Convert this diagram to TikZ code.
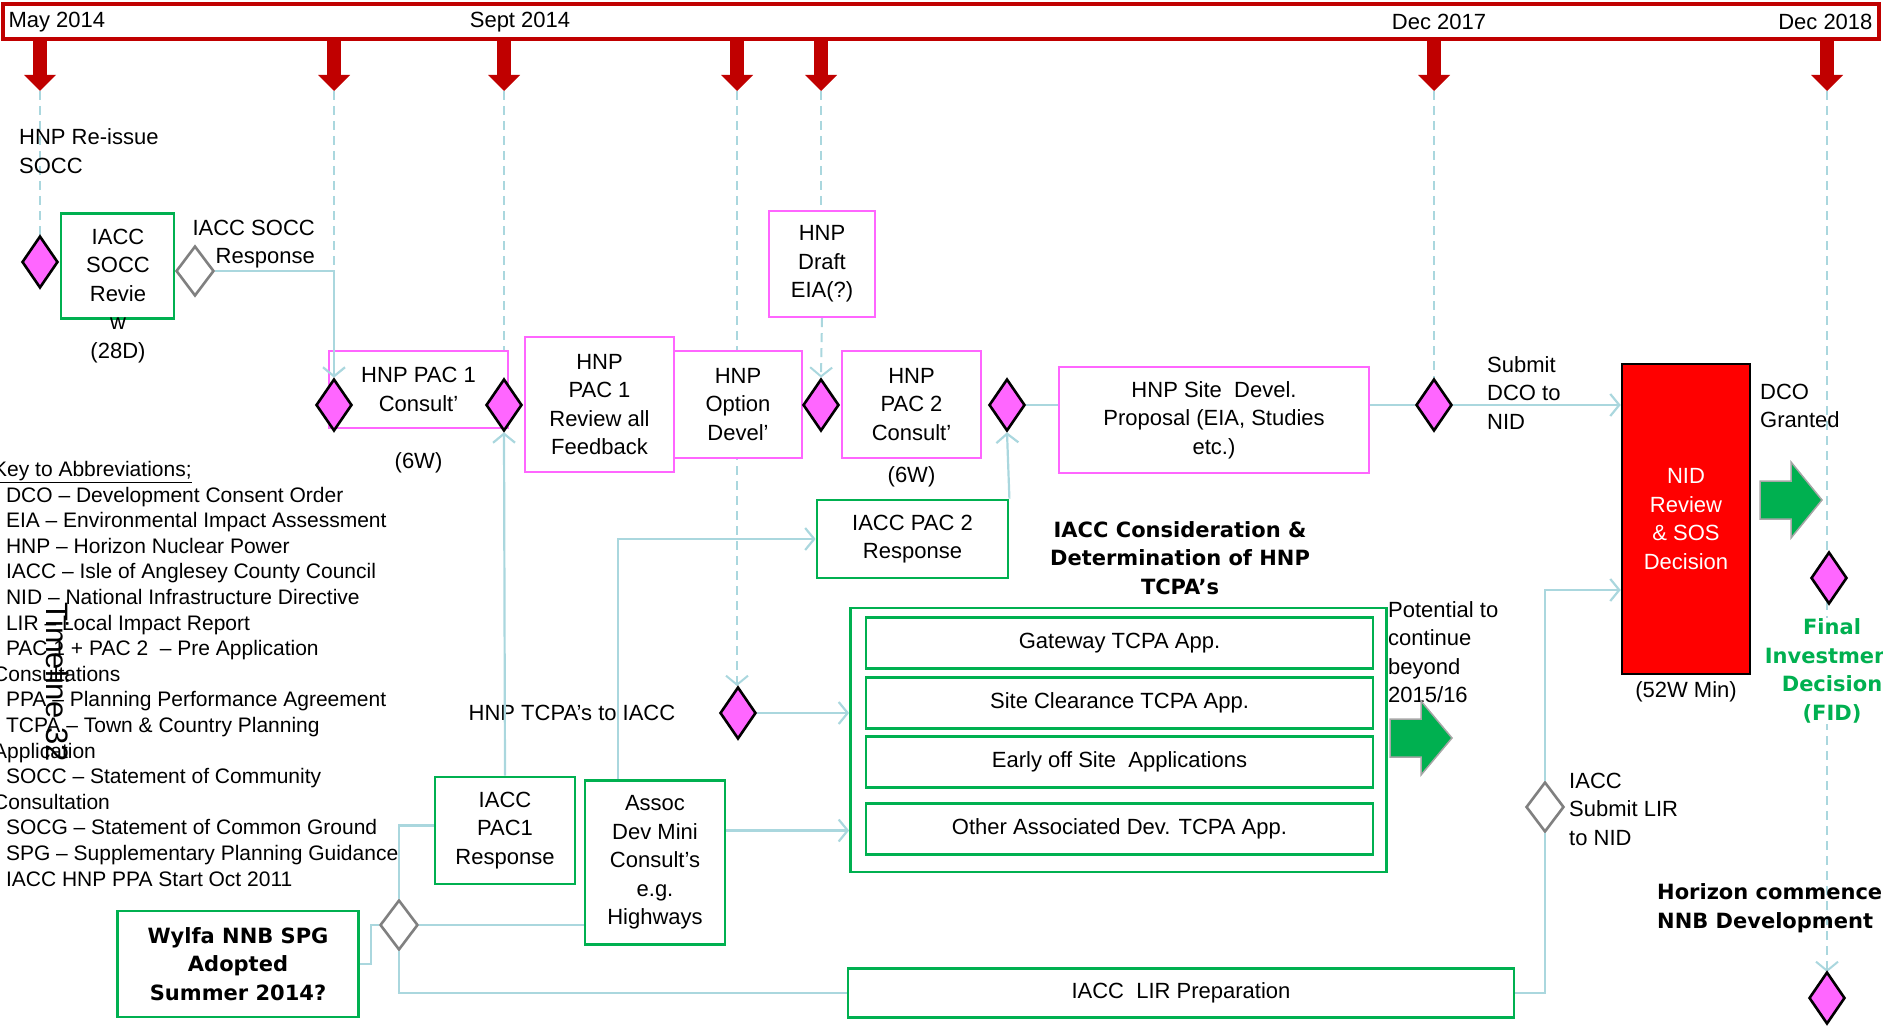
\documentclass[tikz,border=0pt]{standalone}
\usepackage{fontspec}
\setmainfont{Liberation Sans}
\newfontfamily\boldfam{DejaVu Sans}
\usepackage{tikz}
\usetikzlibrary{positioning,arrows.meta,shapes.geometric}
\definecolor{hnppink}{HTML}{FF66FF}
\definecolor{iaccgreen}{HTML}{00B050}
\definecolor{flowblue}{RGB}{170,215,222}
\definecolor{tickred}{HTML}{C00000}
\definecolor{nidred}{HTML}{FF0000}
\newcommand{\lbltxt}{\fontsize{22}{28.5}\selectfont}
\newcommand{\keytxt}{\fontsize{21}{25.6}\selectfont}
\newcommand{\heavytxt}{\boldfam\bfseries\fontsize{21}{28.5}\selectfont}
\tikzset{
	milestone/.style={diamond,draw=black,fill=hnppink,line width=2.6pt,
		minimum width=36pt,minimum height=52pt,inner sep=0pt},
	waypoint/.style={diamond,draw=gray,fill=white,line width=2.6pt,
		minimum width=38pt,minimum height=50pt,inner sep=0pt},
	hnpbox/.style={draw=hnppink,line width=2.4pt,fill=white,align=center,inner sep=0pt},
	iaccbox/.style={draw=iaccgreen,line width=2.8pt,fill=white,align=center,inner sep=0pt},
	note/.style={align=left,inner sep=0pt},
	link/.style={draw=flowblue,line width=2.2pt},
	flow/.style={link,-{Straight Barb[length=9pt,width=22pt]}},
	track/.style={draw=flowblue,line width=2pt,dash pattern=on 9pt off 6pt},
	tracktip/.style={track,-{Straight Barb[length=9pt,width=22pt]}},
	blockarrow/.style={fill=iaccgreen,draw=gray!70,line width=1.5pt}
}

\begin{document}
\begin{tikzpicture}[x=1pt,y=-1pt,font=\lbltxt]
	\useasboundingbox (0,0) rectangle (1883,1030);
	
	% timeline header
	\node[draw=tickred,line width=4pt,minimum width=1876pt,minimum height=35pt,
		anchor=north west,inner sep=0pt] (hdr) at (1,2) {};
	\node[anchor=west] (may) at (5,22) {May 2014};
	\node (sept) at (520,22) {Sept 2014};
	\node (dec17) at (1439,22) {Dec 2017};
	\node[anchor=east] (dec18) at (1876,22) {Dec 2018};
	\foreach \x [count=\i] in {40,334,504,737,821,1434,1827} {
		\fill[tickred] (\x-7,38) rectangle (\x+7,76);
		\fill[tickred] (\x-16,75) -- (\x+16,75) -- (\x,91) -- cycle;
		\coordinate (tip\i) at (\x,91);
	}
	
	% dashed time tracks
	\draw[track] (tip1) -- (40,236);
	\draw[track] (tip2) -- (334,379);
	\draw[track] (tip3) -- (504,379);
	\draw[tracktip] (tip4) -- (737,686);
	\draw[track] (tip5) -- (821,211);
	\draw[track] (tip6) -- (1434,379);
	\draw[tracktip] (tip7) -- (1827,972);
	
	% SOCC
	\node[note,anchor=west] (reissuelbl) at (19,151) {HNP Re-issue\\SOCC};
	\node[milestone] (reissue) at (40,262) {};
	\node[iaccbox,minimum width=113pt,minimum height=105pt] (sreview) at (117.5,266) {};
	\node[align=center,inner sep=0pt] (sreviewtxt) at (118,296) {IACC\\SOCC\\Revie\\w\\(28D)};
	\node[waypoint] (sresp) at (195,271) {};
	\node[note,align=right,anchor=east] (sresplbl) at (315,244) {IACC SOCC\\Response};
	
	% HNP consultation chain
	\node[hnpbox,minimum width=179pt,minimum height=77pt] (pac1) at (418.5,389.5) {HNP PAC 1\\Consult’};
	\node[milestone] (pac1s) at (334,405) {};
	\node[milestone] (pac1e) at (504,405) {};
	\node (w1) [below=20pt of pac1] {(6W)};
	\node[hnpbox,minimum width=149pt,minimum height=135pt] (review) at (599.5,404.5) {HNP\\PAC 1\\Review all\\Feedback};
	\node[hnpbox,minimum width=128pt,minimum height=107pt] (option) at (738,404.5) {HNP\\Option\\Devel’};
	\node[hnpbox,minimum width=106pt,minimum height=106pt] (draft) at (822,264) {HNP\\Draft\\EIA(?)};
	\node[milestone] (pac2s) at (821,405) {};
	\node[hnpbox,minimum width=139pt,minimum height=107pt] (pac2) at (911.5,404.5) {HNP\\PAC 2\\Consult’};
	\node (w2) [below=4pt of pac2] {(6W)};
	\node[milestone] (pac2e) at (1007,405) {};
	\node[hnpbox,minimum width=310pt,minimum height=106pt] (site) at (1214,420) {HNP Site~ Devel.\\Proposal (EIA, Studies\\etc.)};
	\node[milestone] (dco) at (1434,405) {};
	\node[note,anchor=west] (dcolbl) at (1487,393) {Submit\\DCO to\\NID};
	
	% NID decision
	\node[draw=black,fill=nidred,line width=2.6pt,minimum width=128pt,minimum height=310pt,
		text=white,align=center] (nid) at (1686,519) {NID\\Review\\\& SOS\\Decision};
	\node (minlbl) [below=3pt of nid] {(52W Min)};
	\node[note,anchor=west] (grantlbl) at (1760,406) {DCO\\Granted};
	\coordinate (go1) at (1760,500);
	\draw[blockarrow] (go1) ++(0,-19) -- ++(31,0) -- ++(0,-19) -- ++(31,38) -- ++(-31,38) -- ++(0,-19) -- ++(-31,0) -- cycle;
	\node[milestone] (fid) at (1829,578) {};
	\node[align=center,text=iaccgreen,font=\heavytxt,fill=white,inner sep=1pt] (fidlbl) at (1832,671) {Final\\Investment\\Decision\\(FID)};
	\node[note,anchor=west,font=\heavytxt] (startlbl) at (1657,908) {Horizon commences\\NNB Development};
	\node[milestone] (start) at (1827,998) {};
	
	% IACC TCPA applications
	\node[iaccbox,minimum width=191pt,minimum height=78pt] (pac2resp) at (912.5,539) {IACC PAC 2\\Response};
	\node[align=center,font=\heavytxt] (tcpattl) at (1180,558) {IACC Consideration \&\\Determination of HNP\\TCPA’s};
	\node[iaccbox,minimum width=536pt,minimum height=264pt] (tcpa) at (1118.5,740) {};
	\node[iaccbox,minimum width=507pt,minimum height=51pt] (gateway) at (1119.5,643) {Gateway TCPA App.};
	\node[iaccbox,minimum width=507pt,minimum height=51pt] (clear) at (1119.5,703) {Site Clearance TCPA App.};
	\node[iaccbox,minimum width=507pt,minimum height=51pt] (early) at (1119.5,762) {Early off Site~ Applications};
	\node[iaccbox,minimum width=507pt,minimum height=51pt] (other) at (1119.5,829) {Other Associated Dev. TCPA App.};
	\node[note,anchor=west] (potlbl) at (1388,652) {Potential to\\continue\\beyond\\2015/16};
	\coordinate (go2) at (1390,738);
	\draw[blockarrow] (go2) ++(0,-19) -- ++(31,0) -- ++(0,-18) -- ++(31,37) -- ++(-31,37) -- ++(0,-18) -- ++(-31,0) -- cycle;
	\node[milestone] (tcpas) at (738,713) {};
	\node (tcpaslbl) at (572,713) {HNP TCPA’s to IACC};
	\node[iaccbox,minimum width=140pt,minimum height=107pt] (pac1resp) at (505,830.5) {IACC\\PAC1\\Response};
	\node[iaccbox,minimum width=140pt,minimum height=164pt] (assoc) at (655,862.5) {Assoc\\Dev Mini\\Consult’s\\e.g.\\Highways};
	
	% SPG and LIR
	\node[iaccbox,minimum width=241pt,minimum height=106pt,font=\heavytxt] (wylfa) at (238,964) {Wylfa NNB SPG\\Adopted\\Summer 2014?};
	\node[waypoint] (spg) at (399,925) {};
	\node[iaccbox,minimum width=666pt,minimum height=49pt] (lir) at (1181,993) {IACC~ LIR Preparation};
	\node[waypoint] (lirsub) at (1545,807) {};
	\node[note,anchor=west] (lirlbl) at (1569,809) {IACC\\Submit LIR\\to NID};
	
	% key
	\node[note,font=\keytxt,anchor=north west] (key) at (-7,461) {\underline{Key to Abbreviations;}\\
		- DCO – Development Consent Order\\
		- EIA – Environmental Impact Assessment\\
		- HNP – Horizon Nuclear Power\\
		- IACC – Isle of Anglesey County Council\\
		- NID – National Infrastructure Directive\\
		- LIR – Local Impact Report\\
		- PAC 1 + PAC 2~ – Pre Application\\
		Consultations\\
		- PPA – Planning Performance Agreement\\
		- TCPA – Town \& Country Planning\\
		Application\\
		- SOCC – Statement of Community\\
		Consultation\\
		- SOCG – Statement of Common Ground\\
		- SPG – Supplementary Planning Guidance\\
		- IACC HNP PPA Start Oct 2011};
	\node[font=\fontsize{31}{31}\selectfont,rotate=-90] (tl) at (58,682) {Timeline 32};
	
	% connectors
	\draw[flow] (sresp.east) -| (pac1s.north);
	\draw[flow] (pac1resp.north) -- (pac1e.south);
	\draw[tracktip] (draft.south) -- (pac2s.north);
	\draw[flow] (pac2resp.north east) -- (pac2e.south);
	\draw[link] (pac2e.east) -- (pac2e -| site.west);
	\draw[link] (site.east |- dco) -- (dco.west);
	\draw[flow] (dco.east) -- (dco -| nid.west);
	\draw[flow] ([xshift=-37pt]assoc.north) |- (pac2resp.west);
	\draw[flow] (tcpas.east) -- (tcpas -| tcpa.west);
	\draw[flow] ([yshift=32pt]assoc.east) coordinate (ae) -- (ae -| tcpa.west);
	\draw[link] (wylfa.east) -- ++(11,0) |- (spg.west);
	\draw[link] (spg.north) |- ([yshift=5pt]pac1resp.west);
	\draw[link] (spg.east) -- (spg -| assoc.west);
	\draw[link] (spg.south) |- (lir.west);
	\draw[link] (lir.east) -| (lirsub.south);
	\draw[flow] (lirsub.north) |- ([yshift=-71pt]nid.west);
\end{tikzpicture}
\end{document}
